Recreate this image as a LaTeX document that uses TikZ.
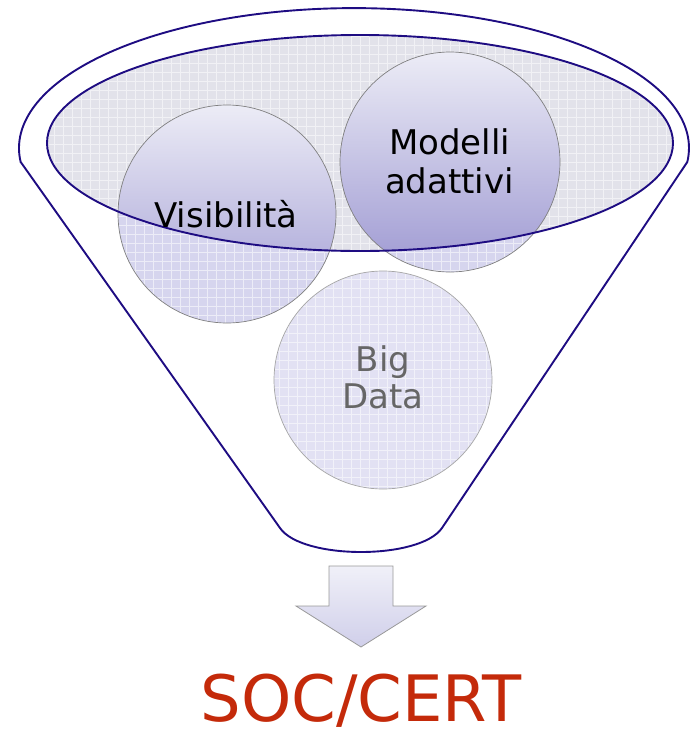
\documentclass[tikz,border=0pt]{standalone}
\usepackage{fontspec}
\setmainfont{DejaVu Sans}
\newfontfamily\labfont{DejaVu Sans}
\definecolor{navy}{RGB}{30,12,130}
\definecolor{ellfill}{RGB}{226,226,234}
\definecolor{paleL}{RGB}{214,213,238}
\definecolor{paleB}{RGB}{226,225,243}
\definecolor{gradtop}{RGB}{236,236,246}
\definecolor{gradbot}{RGB}{158,153,210}
\definecolor{socred}{RGB}{196,42,10}
\definecolor{arrtop}{RGB}{240,240,248}
\definecolor{arrbot}{RGB}{208,207,234}
\tikzset{
  rim/.style={draw=navy,line width=1.9pt},
  circborder/.style={draw=black!50,line width=0.7pt},
  texgrid/.style={draw=white,line width=0.7pt,opacity=0.55},
  lab/.style={font=\labfont\fontsize{34}{38}\selectfont,anchor=base,inner sep=0pt},
}
\begin{document}
\begin{tikzpicture}[x=1pt,y=1pt]
\useasboundingbox (0,0) rectangle (689,-734);
% funnel outline
\path[fill=white] (20.7,-162) -- (280,-528) .. controls (302,-560) and (420,-560) .. (442,-528) -- (687.3,-162)
  arc[start angle=-5.7,end angle=185.7,x radius=335,y radius=140] -- cycle;
% named reference points
\coordinate (ellc) at (360,-143);
\coordinate (visc) at (227,-214);
\coordinate (modc) at (450,-162);
\coordinate (bigc) at (383,-380);
% inner ellipse fill
\fill[ellfill] (ellc) ellipse[x radius=313,y radius=108];
\begin{scope}
\clip (ellc) ellipse[x radius=313,y radius=108];
\draw[texgrid,step=9] (40,-30) grid (680,-260);
\end{scope}
% faded circles
\fill[paleL] (visc) circle[radius=109];
\fill[paleL] (modc) circle[radius=110];
\fill[paleB] (bigc) circle[radius=109];
\begin{scope}
\clip (visc) circle[radius=109];
\draw[texgrid,step=9] (100,-100) grid (340,-330);
\end{scope}
\begin{scope}
\clip (modc) circle[radius=110];
\draw[texgrid,step=9] (330,-45) grid (565,-280);
\end{scope}
\begin{scope}
\clip (bigc) circle[radius=109];
\draw[texgrid,step=9] (270,-265) grid (500,-495);
\end{scope}
% gradient parts inside the ellipse
\begin{scope}
\clip (ellc) ellipse[x radius=313,y radius=108];
\shade[top color=gradtop,bottom color=gradbot] (visc) circle[radius=109];
\shade[top color=gradtop,bottom color=gradbot] (modc) circle[radius=110];
\end{scope}
% circle borders
\draw[circborder] (visc) circle[radius=109];
\draw[circborder] (modc) circle[radius=110];
\draw[circborder,draw=black!35] (bigc) circle[radius=109];
% ellipse border
\draw[rim] (ellc) ellipse[x radius=313,y radius=108];
% funnel border
\draw[rim] (20.7,-162) -- (280,-528) .. controls (302,-560) and (420,-560) .. (442,-528) -- (687.3,-162)
  arc[start angle=-5.7,end angle=185.7,x radius=335,y radius=140] -- cycle;
% labels
\node[lab] (tvis) at (226,-227) {Visibilità};
\node[lab] (tmod1) at (449.5,-154) {Modelli};
\node[lab] (tmod2) at (449.5,-193) {adattivi};
\node[lab,text=black!60] (tbig1) at (383,-371) {Big};
\node[lab,text=black!60] (tbig2) at (383,-408) {Data};
% arrow
\shade[top color=arrtop,bottom color=arrbot,draw=black!40,line width=0.8pt]
  (329,-566) -- (393,-566) -- (393,-606) -- (426,-606) -- (361,-647) -- (296,-606) -- (329,-606) -- cycle;
\node[font=\labfont\fontsize{64}{70}\selectfont,text=socred,anchor=base,inner sep=0pt] (soc) at (361,-721) {SOC/CERT};
\end{tikzpicture}
\end{document}
